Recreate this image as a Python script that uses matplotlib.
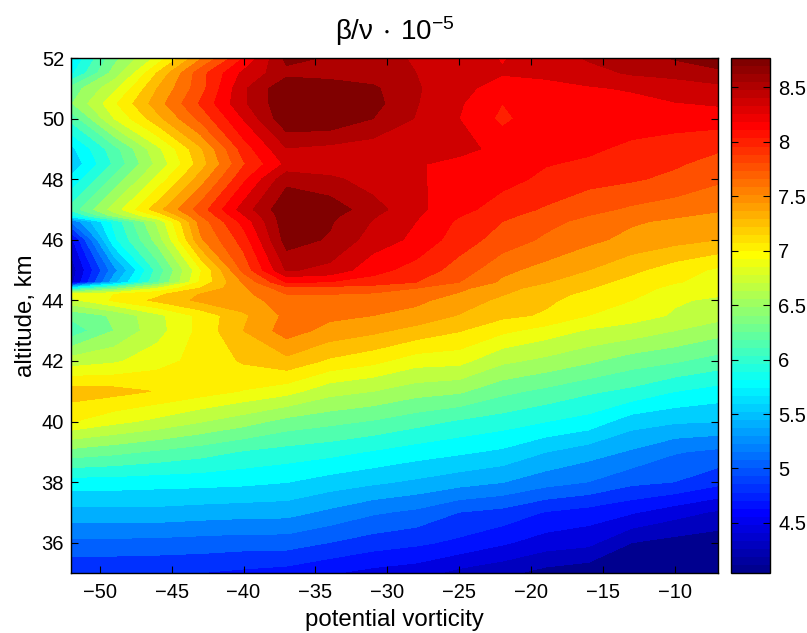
import numpy as np
import matplotlib
matplotlib.use('Agg')
import matplotlib.pyplot as plt
from matplotlib.cm import ScalarMappable
from matplotlib.colors import LinearSegmentedColormap, Normalize

plt.rcParams['font.family'] = ['Liberation Sans', 'DejaVu Sans']
plt.rcParams['mathtext.fontset'] = 'custom'
plt.rcParams['mathtext.rm'] = 'Liberation Sans'
plt.rcParams['mathtext.default'] = 'regular'
plt.rcParams['axes.linewidth'] = 1.0

# potential vorticity columns
pv = [-52, -49, -46, -43, -40, -37, -34, -31, -28, -25, -22, -19, -16, -13, -10, -7]
altitude = [35, 36, 37, 38, 39, 40, 41, 42, 43, 43.5, 44, 44.2, 44.4, 44.6, 45, 46, 46.6, 46.8,
            47, 48, 48.5, 49, 50, 50.5, 51, 51.5, 52]

# beta/nu values per altitude row
row_35 = [4.82, 4.82, 4.81, 4.8, 4.76, 4.72, 4.63, 4.55, 4.5, 4.36, 4.28, 4.16, 4.1, 4.08, 4.06, 4.05]
row_36 = [5.13, 5.13, 5.12, 5.1, 5.08, 5.08, 4.99, 4.9, 4.84, 4.76, 4.64, 4.52, 4.47, 4.23, 4.16, 4.12]
row_37 = [5.5, 5.5, 5.5, 5.47, 5.45, 5.44, 5.33, 5.21, 5.14, 4.99, 4.93, 4.79, 4.72, 4.63, 4.5, 4.39]
row_38 = [5.85, 5.85, 5.83, 5.82, 5.8, 5.76, 5.67, 5.6, 5.53, 5.45, 5.38, 5.26, 5.18, 5.04, 4.99, 4.86]
row_39 = [6.45, 6.38, 6.3, 6.22, 6.12, 6.06, 6.01, 5.93, 5.85, 5.79, 5.72, 5.57, 5.46, 5.35, 5.2, 5.14]
row_40 = [7.08, 6.95, 6.85, 6.72, 6.6, 6.45, 6.38, 6.31, 6.21, 6.11, 6.04, 5.95, 5.87, 5.65, 5.59, 5.57]
row_41 = [7.33, 7.3, 7.23, 7.15, 7.06, 6.97, 6.78, 6.71, 6.6, 6.55, 6.38, 6.28, 6.17, 6.09, 5.95, 5.87]
row_42 = [6.8, 6.87, 7.0, 7.13, 7.26, 7.36, 7.21, 7.12, 6.98, 6.96, 6.75, 6.66, 6.55, 6.42, 6.35, 6.25]
row_43 = [6.2, 6.52, 6.83, 7.12, 7.41, 7.66, 7.52, 7.45, 7.35, 7.25, 7.11, 7.0, 6.88, 6.82, 6.71, 6.6]
row_435 = [6.38, 6.55, 6.85, 7.12, 7.38, 7.62, 7.62, 7.58, 7.52, 7.4, 7.28, 7.22, 7.07, 6.98, 6.88, 6.78]
row_44 = [6.85, 7.1, 7.28, 7.45, 7.52, 7.65, 7.65, 7.65, 7.62, 7.5, 7.37, 7.27, 7.17, 7.07, 6.92, 6.87]
row_442 = [6.95, 7.07, 7.2, 7.42, 7.53, 7.75, 7.75, 7.73, 7.68, 7.56, 7.42, 7.3, 7.2, 7.1, 7.0, 6.92]
row_444 = [5.9, 6.4, 6.9, 7.25, 7.55, 7.85, 7.85, 7.82, 7.75, 7.62, 7.46, 7.35, 7.25, 7.13, 7.03, 6.97]
row_446 = [4.35, 5.5, 6.3, 7.1, 7.6, 8.1, 8.08, 8.02, 7.92, 7.75, 7.55, 7.42, 7.3, 7.18, 7.08, 7.02]
row_45 = [4.3, 5.3, 6.2, 7.05, 7.8, 8.45, 8.38, 8.15, 8.02, 7.85, 7.62, 7.52, 7.41, 7.28, 7.15, 7.04]
row_46 = [4.55, 5.9, 6.6, 7.55, 8.0, 8.68, 8.58, 8.35, 8.22, 8.0, 7.85, 7.72, 7.62, 7.53, 7.47, 7.41]
row_466 = [5.2, 6.0, 6.75, 7.65, 8.15, 8.72, 8.62, 8.42, 8.26, 8.06, 7.92, 7.8, 7.7, 7.6, 7.55, 7.5]
row_468 = [5.9, 6.6, 7.1, 7.75, 8.25, 8.72, 8.65, 8.45, 8.28, 8.1, 7.96, 7.85, 7.75, 7.66, 7.6, 7.55]
row_47 = [6.2, 6.8, 7.34, 7.83, 8.34, 8.74, 8.7, 8.5, 8.3, 8.15, 8.0, 7.9, 7.8, 7.72, 7.66, 7.6]
row_48 = [5.8, 6.38, 6.95, 7.49, 8.05, 8.55, 8.47, 8.35, 8.28, 8.2, 8.15, 8.05, 7.98, 7.94, 7.88, 7.78]
row_485 = [5.6, 6.17, 6.76, 7.32, 7.9, 8.3, 8.3, 8.3, 8.28, 8.2, 8.2, 8.1, 8.06, 8.0, 7.94, 7.86]
row_49 = [5.7, 6.25, 6.85, 7.38, 8.0, 8.42, 8.38, 8.34, 8.33, 8.32, 8.2, 8.15, 8.12, 8.05, 8.0, 7.94]
row_50 = [6.2, 6.9, 7.35, 7.8, 8.27, 8.74, 8.74, 8.6, 8.42, 8.26, 8.05, 8.2, 8.2, 8.18, 8.17, 8.17]
row_505 = [6.5, 7.04, 7.5, 7.94, 8.4, 8.74, 8.74, 8.66, 8.44, 8.28, 8.09, 8.18, 8.18, 8.2, 8.25, 8.28]
row_51 = [6.4, 6.85, 7.41, 7.85, 8.4, 8.74, 8.74, 8.63, 8.45, 8.3, 8.2, 8.2, 8.24, 8.28, 8.36, 8.38]
row_515 = [5.9, 6.6, 7.25, 7.85, 8.3, 8.55, 8.5, 8.5, 8.43, 8.35, 8.27, 8.3, 8.37, 8.45, 8.47, 8.55]
row_52 = [5.75, 6.45, 6.95, 7.55, 8.09, 8.65, 8.58, 8.5, 8.41, 8.33, 8.25, 8.33, 8.45, 8.5, 8.62, 8.72]

beta_nu = np.array([row_35, row_36, row_37, row_38, row_39, row_40, row_41, row_42, row_43, row_435,
                    row_44, row_442, row_444, row_446, row_45, row_46, row_466, row_468,
                    row_47, row_48, row_485, row_49, row_50, row_505, row_51, row_515, row_52])

cbar_ticks = [4.5, 5, 5.5, 6, 6.5, 7, 7.5, 8, 8.5]
cbar_labels = ['4.5', '5', '5.5', '6', '6.5', '7', '7.5', '8', '8.5']
x_ticks = [-50, -45, -40, -35, -30, -25, -20, -15, -10]
y_ticks = [36, 38, 40, 42, 44, 46, 48, 50, 52]

# matlab style jet, pure red and yellow sit on their own steps
jet64 = LinearSegmentedColormap.from_list('jet64', [
    (0, (0, 0, 0.5625)), (7/63, (0, 0, 1)), (23/63, (0, 1, 1)),
    (39/63, (1, 1, 0)), (55/63, (1, 0, 0)), (1, (0.5, 0, 0))], N=64)

fig = plt.figure(figsize=(8.07, 6.33), dpi=100)
ax = fig.add_axes([71/807, 60/633, 647/807, 515/633])
cax = fig.add_axes([731/807, 60/633, 39/807, 515/633])

# 26 filled bands, counted in the picture
vmin, vmax = 4.04, 8.77
levels = np.concatenate([np.linspace(vmin, 6.9, 16)[:-1], np.linspace(6.9, vmax, 12)])
band_colors = jet64(np.round(np.linspace(0, 63, 26)).astype(int))
cs = ax.contourf(pv, altitude, beta_nu, levels=levels, colors=band_colors)

ax.set_xlim(-52, -7)
ax.set_ylim(35, 52)
ax.set_xticks(x_ticks)
ax.set_yticks(y_ticks)
ax.tick_params(direction='in', top=True, right=True, length=5, width=0.8, labelsize=14.5, pad=7)
ax.tick_params(axis='y', pad=5)
ax.set_xlabel('potential vorticity', fontsize=17.3, labelpad=5)
ax.set_ylabel('altitude, km', fontsize=17.3, labelpad=3)
ax.set_title(r'$\mathrm{\beta/\nu}\/\cdot\/10^{-5}$', fontsize=20, pad=13)

# the colorbar shows the full 64 colour map
sm = ScalarMappable(Normalize(vmin, vmax), jet64)
cb = fig.colorbar(sm, cax=cax)
cb.set_ticks(cbar_ticks)
cb.set_ticklabels(cbar_labels)
cax.tick_params(direction='in', left=True, right=True, length=5, width=0.8, labelsize=14.5, pad=6)
cb.outline.set_linewidth(1.0)

fig.savefig('out.png', dpi=100)
